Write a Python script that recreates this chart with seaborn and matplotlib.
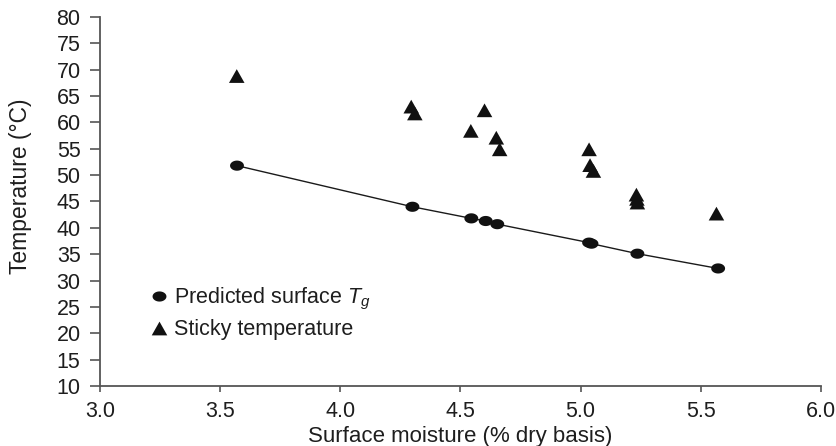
import matplotlib
matplotlib.use("Agg")
import matplotlib.pyplot as plt
import seaborn as sns
import pandas as pd
import numpy as np
from matplotlib.lines import Line2D
from matplotlib.path import Path

# Data
tg_moisture = [3.57, 4.30, 4.545, 4.605, 4.653, 5.035, 5.045, 5.236, 5.572]
tg_temp = [51.8, 44.0, 41.8, 41.3, 40.7, 37.2, 37.0, 35.1, 32.3]

sticky_moisture = [3.569, 4.295, 4.31, 4.543, 4.60, 4.649, 4.663, 5.035, 5.039,
                   5.053, 5.232, 5.234, 5.236, 5.565]
sticky_temp = [68.8, 63.0, 61.7, 58.4, 62.3, 57.1, 54.9, 54.9, 51.9,
               50.8, 46.3, 45.5, 44.8, 42.7]

x_ticks = [3.0, 3.5, 4.0, 4.5, 5.0, 5.5, 6.0]
y_ticks = list(range(10, 81, 5))

label_tg = "Predicted surface $T_g$"
label_sticky = "Sticky temperature"
x_label = "Surface moisture (% dry basis)"
y_label = "Temperature (°C)"

sns.set_theme(style="ticks")
plt.rcParams["font.family"] = ["Liberation Sans", "DejaVu Sans"]
plt.rcParams["mathtext.fontset"] = "custom"
plt.rcParams["mathtext.it"] = "Liberation Sans:italic"
plt.rcParams["mathtext.rm"] = "Liberation Sans"

txt = "#1e1e1e"
spine_c = "#555555"
mark_c = "#111111"

# slightly wide marker shapes (reference is horizontally stretched)
_t = np.linspace(0, 2 * np.pi, 60)
ellipse = Path(np.column_stack([np.cos(_t), 0.73 * np.sin(_t)]), closed=True)
tri = Path([(-0.565, -0.5), (0.565, -0.5), (0.0, 0.5), (-0.565, -0.5)], closed=True)

fig = plt.figure(figsize=(8.37, 4.46), dpi=100)
ax = fig.add_axes([100 / 837, 1 - 386 / 446, 721 / 837, 369 / 446])

df_tg = pd.DataFrame({"x": tg_moisture, "y": tg_temp})
df_st = pd.DataFrame({"x": sticky_moisture, "y": sticky_temp})

sns.lineplot(data=df_tg, x="x", y="y", ax=ax, color="#1a1a1a", linewidth=1.0,
             sort=False, estimator=None, zorder=2)
sns.scatterplot(data=df_tg, x="x", y="y", ax=ax, marker=ellipse, s=100,
                color=mark_c, edgecolor="none", linewidth=0, zorder=3)
sns.scatterplot(data=df_st, x="x", y="y", ax=ax, marker=tri, s=125,
                color=mark_c, edgecolor="none", linewidth=0, zorder=3)

ax.set_xlim(3.0, 6.0)
ax.set_ylim(10, 80)
ax.set_xticks(x_ticks)
ax.set_xticklabels([f"{v:.1f}" for v in x_ticks])
ax.set_yticks(y_ticks)
ax.set_yticklabels([str(v) for v in y_ticks])

sns.despine(ax=ax)
for s in ["left", "bottom"]:
    ax.spines[s].set_color(spine_c)
    ax.spines[s].set_linewidth(1.3)
ax.tick_params(axis="x", direction="out", length=4.5, width=1.2,
               color=spine_c, labelcolor=txt, labelsize=15.5, pad=6.5)
ax.tick_params(axis="y", direction="out", length=7.5, width=1.2,
               color=spine_c, labelcolor=txt, labelsize=15.5, pad=6.5)

ax.set_xlabel(x_label, fontsize=16, color=txt)
ax.xaxis.set_label_coords(0.5, -0.108)
ax.set_ylabel(y_label, fontsize=16.5, color=txt)
ax.yaxis.set_label_coords(-0.094, 0.542)

handles = [
    Line2D([], [], marker=ellipse, linestyle="none", color=mark_c,
           markersize=10, markeredgewidth=0),
    Line2D([], [], marker=tri, linestyle="none", color=mark_c,
           markersize=11.2, markeredgewidth=0),
]
leg = ax.legend(handles, [label_tg, label_sticky], loc="upper left",
                bbox_to_anchor=(0.056, 0.295), frameon=False, fontsize=15.5,
                handletextpad=0.25, handlelength=0.9, labelspacing=0.35,
                borderaxespad=0)
for t in leg.get_texts():
    t.set_color(txt)

fig.savefig("out.png", dpi=100)
